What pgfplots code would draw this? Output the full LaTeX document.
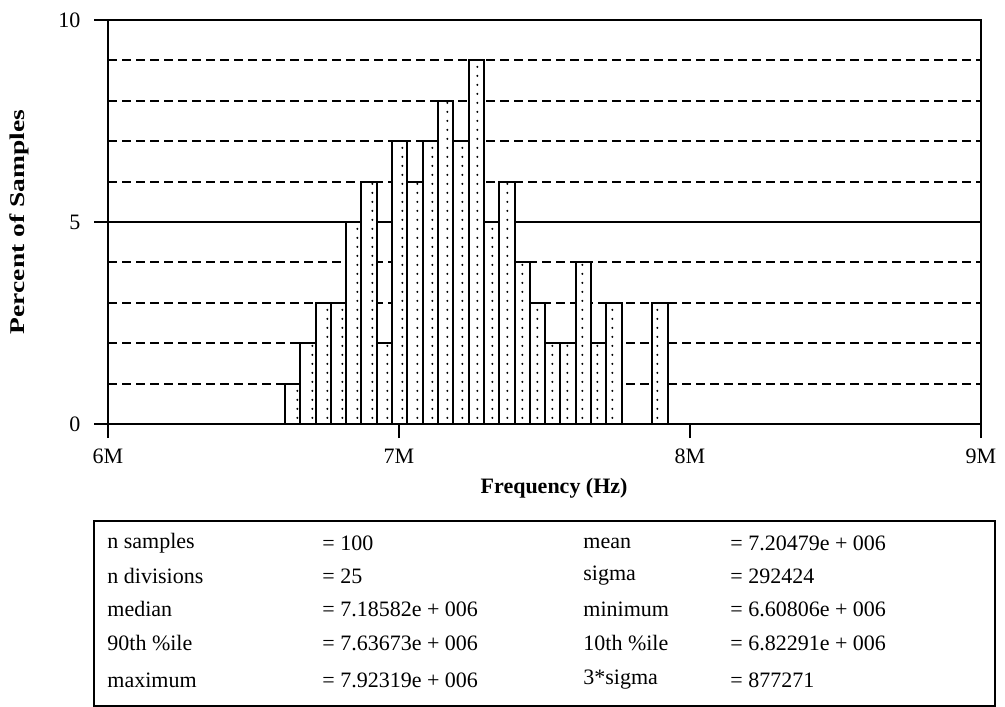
\documentclass[border=0pt]{standalone}
\usepackage{fontspec}
\setmainfont{Liberation Serif}
\usepackage{pgfplots}
\pgfplotsset{compat=1.18}
\usetikzlibrary{patterns.meta}

\pgfdeclarepattern{
  name=bardots, type=uncolored,
  bottom left={\pgfpoint{0pt}{0pt}}, top right={\pgfpoint{7.662pt}{4.3pt}},
  tile size={\pgfpoint{7.662pt}{4.3pt}},
  code={\pgfpathcircle{\pgfpoint{3.83pt}{2.15pt}}{0.6pt}\pgfusepath{fill}}
}

\pgfplotstableread{
x h
6.60806 1
6.66067 2
6.71327 3
6.76588 3
6.81848 5
6.87109 6
6.92369 2
6.97630 7
7.02890 6
7.08151 7
7.13411 8
7.18672 7
7.23932 9
7.29193 5
7.34453 6
7.39714 4
7.44974 3
7.50235 2
7.55495 2
7.60756 4
7.66016 2
7.71277 3
7.76537 0
7.81798 0
7.87058 3
7.92319 3
}\histdata

\begin{document}
\begin{tikzpicture}
\useasboundingbox (0,0) rectangle (502.5pt,353pt);
\begin{axis}[
  at={(54pt,141pt)}, anchor=south west,
  scale only axis, width=436.5pt, height=202pt,
  xmin=6, xmax=9, ymin=0, ymax=10,
  xtick={6,7,8,9}, xticklabels={6M,7M,8M,9M},
  ytick={0,5,10},
  minor ytick={1,2,3,4,6,7,8,9},
  tick pos=left,
  tick align=outside,
  major tick length=7pt,
  minor tick length=0pt,
  ymajorgrids, yminorgrids,
  major grid style={line width=1pt, black},
  minor grid style={line width=1pt, black, dash pattern=on 4.5pt off 2.5pt},
  axis line style={line width=1pt},
  every tick/.style={line width=1pt, black},
  font=\fontsize{11}{13}\selectfont,
  /pgf/number format/assume math mode=true,
  yticklabel style={xshift=-3.3pt},
  xticklabel style={yshift=-2pt},
  every axis x label/.style={at={(axis description cs:0.511,-0.1584)}, anchor=center, font=\fontsize{11}{13}\selectfont\bfseries},
  every axis y label/.style={at={(axis description cs:-0.1014,0.5)}, rotate=90, xscale=1.31, anchor=center, font=\fontsize{10.5}{12}\selectfont\bfseries},
  xlabel={Frequency (Hz)},
  ylabel={Percent of Samples},
]
\addplot[ybar interval, draw=black, line width=1pt, fill=white,
  postaction={pattern=bardots, pattern color=black}] table[x=x, y=h] {\histdata};
\end{axis}
\draw[line width=1pt] (47pt,0pt) rectangle (497.5pt,92.25pt);
\begin{scope}[every node/.style={anchor=west, inner sep=0pt, font=\fontsize{11}{13}\selectfont}]
\node at (53.5pt,81.5pt) {n samples};
\node at (161pt,81.5pt) {= 100};
\node at (291.5pt,81.5pt) {mean};
\node at (365pt,81.5pt) {= 7.20479e + 006};
\node at (53.5pt,65pt) {n divisions};
\node at (161pt,65pt) {= 25};
\node at (291.5pt,65pt) {sigma};
\node at (365pt,65pt) {= 292424};
\node at (53.5pt,48.5pt) {median};
\node at (161pt,48.5pt) {= 7.18582e + 006};
\node at (291.5pt,48.5pt) {minimum};
\node at (365pt,48.5pt) {= 6.60806e + 006};
\node at (53.5pt,31.5pt) {90th \%ile};
\node at (161pt,31.5pt) {= 7.63673e + 006};
\node at (291.5pt,31.5pt) {10th \%ile};
\node at (365pt,31.5pt) {= 6.82291e + 006};
\node at (53.5pt,13pt) {maximum};
\node at (161pt,13pt) {= 7.92319e + 006};
\node at (291.5pt,13pt) {3*sigma};
\node at (365pt,13pt) {= 877271};
\end{scope}
\end{tikzpicture}
\end{document}
